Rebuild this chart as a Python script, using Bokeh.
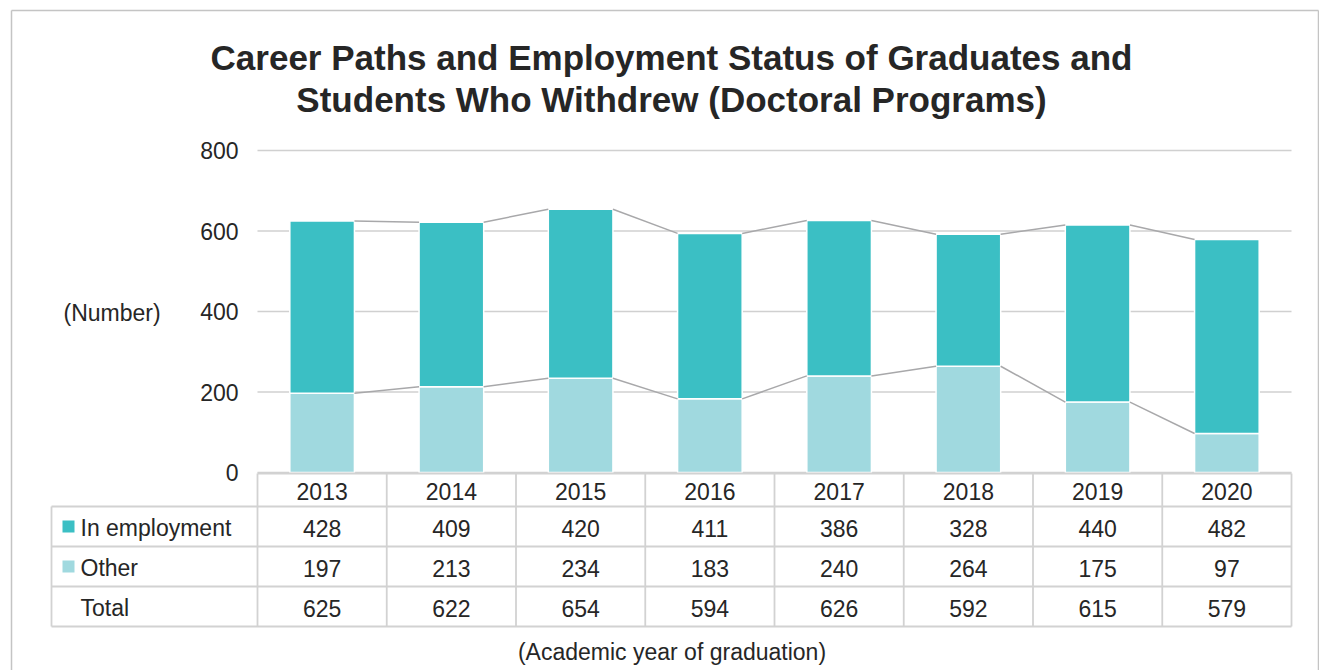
from bokeh.plotting import figure
from bokeh.models import Range1d
from bokeh.core.properties import value
from bokeh.embed import file_html
from bokeh.resources import INLINE

# ---- data ----
years = ["2013", "2014", "2015", "2016", "2017", "2018", "2019", "2020"]
employment = [428, 409, 420, 411, 386, 328, 440, 482]
other = [197, 213, 234, 183, 240, 264, 175, 97]
total = [625, 622, 654, 594, 626, 592, 615, 579]
y_ticks = [0, 200, 400, 600, 800]
row_labels = ["In employment", "Other", "Total"]

# ---- layout helpers (page pixel -> data coords) ----
W, H = 1319, 670
OFF = 0
X0_PAGE, COLW = 257.0, 129.25
Y0_PAGE, YS = 472.0, 0.4025


def dx(px):
    return (px - X0_PAGE) / COLW


def dy(py):
    return (Y0_PAGE - py) / YS


FONT = value("Liberation Sans")
TXT = "#262626"
TEAL = "#3bbfc4"
LIGHT = "#a0d9df"
GRID = "#d0d0d0"
SER = "#a8a8aa"
TBL = "#d2d2d2"
FS = "23px"

p = figure(width=W, height=H, x_range=Range1d(dx(OFF), dx(OFF + W)),
           y_range=Range1d(dy(OFF + H), dy(OFF)), output_backend="svg",
           toolbar_location=None, x_axis_type=None, y_axis_type=None,
           min_border=0, outline_line_color=None, title=None)

# outer frame
fl, ft, fr, fb = dx(11), dy(10), dx(1318), dy(720)
p.segment(x0=[fl, fl, fr], y0=[ft, ft, ft], x1=[fr, fl, fr], y1=[ft, fb, fb],
          line_color="#c4c4c4", line_width=1.5)

# gridlines
n = len(years)
p.segment(x0=[0] * len(y_ticks), x1=[n] * len(y_ticks), y0=y_ticks, y1=y_ticks,
          line_color=GRID, line_width=1.5)

# tick labels
p.text(x=[dx(238)] * len(y_ticks), y=y_ticks, text=[str(t) for t in y_ticks],
       text_font=FONT, text_font_size=FS, text_color=TXT,
       text_align="right", text_baseline="middle")

# bars
xs = [i + 0.5 for i in range(n)]
tops = [o + e for o, e in zip(other, employment)]
p.vbar(x=xs, bottom=0, top=other, width=0.5, fill_color=LIGHT,
       line_color="white", line_width=1.5)
p.vbar(x=xs, bottom=other, top=tops, width=0.5, fill_color=TEAL,
       line_color="white", line_width=1.5)

# series lines
for series in (tops, other):
    p.segment(x0=[i + 0.75 for i in range(n - 1)], x1=[i + 1.25 for i in range(n - 1)],
              y0=series[:-1], y1=series[1:], line_color=SER, line_width=1.5)

# table
row_bounds = [dy(473), dy(506), dy(546), dy(586), dy(626)]
left = dx(51)
p.segment(x0=[0, left, left, left, left], x1=[n] * 5, y0=row_bounds, y1=row_bounds,
          line_color=TBL, line_width=1.8)
p.segment(x0=list(range(n + 1)), x1=list(range(n + 1)),
          y0=[row_bounds[0]] * (n + 1), y1=[row_bounds[-1]] * (n + 1),
          line_color=TBL, line_width=1.8)
p.segment(x0=[left], x1=[left], y0=[row_bounds[1]], y1=[row_bounds[-1]],
          line_color=TBL, line_width=1.8)

centers = [(row_bounds[k] + row_bounds[k + 1]) / 2 - 1.5 / YS for k in range(4)]
rows = [years, [str(v) for v in employment], [str(v) for v in other], [str(v) for v in total]]
for k, r in enumerate(rows):
    p.text(x=xs, y=[centers[k]] * n, text=r, text_font=FONT, text_font_size=FS,
           text_color=TXT, text_align="center", text_baseline="middle")

p.text(x=[dx(80)] * 3, y=centers[1:], text=row_labels, text_font=FONT,
       text_font_size=FS, text_color=TXT, text_align="left", text_baseline="middle")
p.scatter(x=[dx(68)] * 2, y=[dy(526), dy(566)], marker="square", size=12,
          fill_color=[TEAL, LIGHT], line_color=None)

# titles / captions
p.text(x=[dx(671)] * 2, y=[dy(57), dy(99)],
       text=["Career Paths and Employment Status of Graduates and",
             "Students Who Withdrew (Doctoral Programs)"],
       text_font=FONT, text_font_size="35px", text_font_style="bold",
       text_color=TXT, text_align="center", text_baseline="middle")
p.text(x=[dx(63)], y=[dy(312)], text=["(Number)"], text_font=FONT,
       text_font_size=FS, text_color=TXT, text_align="left", text_baseline="middle")
p.text(x=[dx(671.5)], y=[dy(651)], text=["(Academic year of graduation)"], text_font=FONT,
       text_font_size=FS, text_color=TXT, text_align="center", text_baseline="middle")

open("out.html", "w").write(file_html(p, INLINE))
